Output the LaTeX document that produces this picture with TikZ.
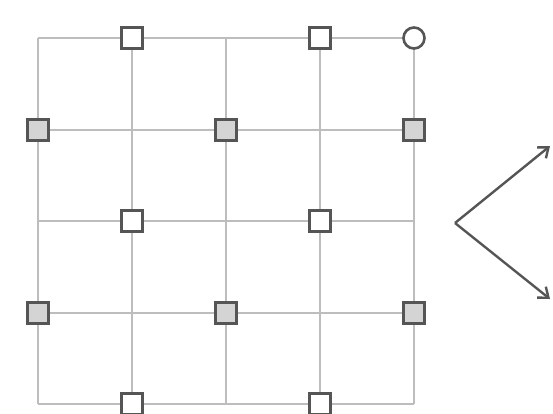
\documentclass[tikz,border=0pt]{standalone}
\usetikzlibrary{arrows.meta}
\definecolor{gridc}{HTML}{BDBDBD}
\definecolor{markc}{HTML}{555555}
\definecolor{fillc}{HTML}{D4D4D4}
\tikzset{
  gridline/.style={draw=gridc, line width=1.8pt},
  openbox/.style={draw=markc, fill=white, line width=2.6pt, minimum size=21pt, inner sep=0pt, shape=rectangle},
  graybox/.style={draw=markc, fill=fillc, line width=2.6pt, minimum size=21pt, inner sep=0pt, shape=rectangle},
  ringmark/.style={draw=markc, fill=white, line width=2.6pt, minimum size=21pt, inner sep=0pt, shape=circle},
  bigarrow/.style={draw=markc, line width=2.4pt, -{Straight Barb[length=9pt,width=14pt,line width=2.4pt]}}
}
\begin{document}
\begin{tikzpicture}[x=1pt,y=-1pt]
\useasboundingbox (0,0) rectangle (553,413);
% grid
\foreach \x in {38,132,226,320,414} \draw[gridline] (\x,38) -- (\x,404);
\foreach \y in {38,130,221,313,404} \draw[gridline] (38,\y) -- (414,\y);
% markers
\node[openbox] (t1) at (132,38) {};
\node[openbox] (t2) at (320,38) {};
\node[ringmark] (c1) at (414,38) {};
\node[graybox] (a1) at (38,130) {};
\node[graybox] (a2) at (226,130) {};
\node[graybox] (a3) at (414,130) {};
\node[openbox] (m1) at (132,221) {};
\node[openbox] (m2) at (320,221) {};
\node[graybox] (b1) at (38,313) {};
\node[graybox] (b2) at (226,313) {};
\node[graybox] (b3) at (414,313) {};
\node[openbox] (d1) at (132,404) {};
\node[openbox] (d2) at (320,404) {};
% arrows
\coordinate (v) at (455,223);
\coordinate (up) at (550,146);
\coordinate (dn) at (550,299);
\draw[bigarrow] (v) -- (up);
\draw[bigarrow] (v) -- (dn);
\end{tikzpicture}
\end{document}
